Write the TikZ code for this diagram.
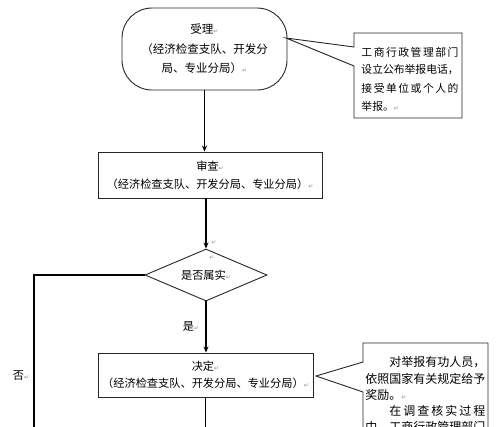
\documentclass[tikz,border=0pt]{standalone}
\usepackage{fontspec}
\newfontfamily\cjk{Noto Sans CJK SC}
\newfontfamily\djv{DejaVu Sans}
\usetikzlibrary{arrows.meta,shapes.geometric}
\newcommand\parmk{{\djv\fontsize{6}{6}\selectfont\color{black!45}↵}}
\def\sprd#1{\sprdA#1\relax}
\def\sprdA#1#2{#1\ifx\relax#2\else\hfill\expandafter\sprdA\fi#2}
\begin{document}
\begin{tikzpicture}[x=1pt,y=-1pt,line width=0.9pt,
  box/.style={draw=black!85,rectangle,inner sep=0pt,align=center,
    font=\cjk\fontsize{11.2}{18}\selectfont},
  flow/.style={-{Stealth[length=6pt,width=5pt]},line width=1.1pt},
  plain/.style={line width=1.1pt},
  lbl/.style={inner sep=0pt,font=\cjk\fontsize{11.2}{12}\selectfont},
  cotext/.style={inner sep=0pt,anchor=west,font=\cjk\fontsize{10.8}{11}\selectfont},
  cotextb/.style={inner sep=0pt,anchor=west,font=\cjk\fontsize{12}{12}\selectfont},
  callout/.style={draw=black!85,line width=0.9pt}]
\useasboundingbox (0,0) rectangle (500,426);

% main flow nodes
\node[box,rounded corners=30pt,minimum width=165pt,minimum height=82pt,
  font=\cjk\fontsize{11.5}{19.5}\selectfont] (accept) at (204.5,49)
  {受理\parmk\\（经济检查支队、开发分\\局、专业分局）\parmk};
\node[box,minimum width=224pt,minimum height=46pt] (review) at (210,175)
  {审查\parmk\\（经济检查支队、开发分局、专业分局）\parmk};
\node[draw=black!85,diamond,aspect=2.35,inner sep=0pt,minimum width=122pt,
  minimum height=52pt,font=\cjk\fontsize{11.2}{12}\selectfont] (real) at (206,275)
  {是否属实\parmk};
\node[box,minimum width=215pt,minimum height=44pt,
  font=\cjk\fontsize{11.2}{17}\selectfont] (decide) at (205.5,375)
  {决定\parmk\\（经济检查支队、开发分局、专业分局）\parmk};

% stray paragraph marks
\node[inner sep=0pt] (pma) at (214,243) {\parmk};
\node[inner sep=0pt] (pmb) at (212,258) {\parmk};

% labels
\node[lbl] (yes) at (191,326) {是\parmk};
\node[lbl] (no) at (21,376) {否\parmk};

% coordinates
\coordinate (corner) at (34,275);
\coordinate (nobot) at (34,432);
\coordinate (dbot) at (205.5,432);

% connectors
\draw[flow] (accept.south) -- (accept.south |- review.north);
\draw[flow] (real.north |- review.south) -- (real.north);
\draw[flow] (real.south) -- (real.south |- decide.north);
\draw[plain] (real.west) -- (corner) -- (nobot);
\draw[plain] (decide.south) -- (dbot);

% callout 1
\draw[callout] (354,33) -- (462,33) -- (462,118) -- (354,118) -- (354,66)
  -- (286,38) -- (354,47) -- cycle;
\node[cotext] (c1a) at (361,52) {\makebox[97pt][s]{\sprd{工商行政管理部门}}};
\node[cotext] (c1b) at (361,70) {\makebox[97pt][s]{\sprd{设立公布举报电话，}}};
\node[cotext] (c1c) at (361,88) {\makebox[97pt][s]{\sprd{接受单位或个人的}}};
\node[cotext] (c1d) at (361,106) {举报。\parmk};

% callout 2
\draw[callout] (363,343) -- (488,343) -- (488,440) -- (363,440) -- (363,392)
  -- (316,376) -- (363,362) -- cycle;
\node[cotextb] (c2a) at (365,362) {\hspace*{24pt}对举报有功人员，};
\node[cotextb] (c2b) at (365,379) {依照国家有关规定给予};
\node[cotextb] (c2c) at (365,395) {奖励。\parmk};
\node[cotextb] (c2d) at (365,411) {\hspace*{24pt}\makebox[96pt][s]{\sprd{在调查核实过程}}};
\node[cotextb] (c2e) at (365,427) {中，工商行政管理部门};
\end{tikzpicture}
\end{document}
